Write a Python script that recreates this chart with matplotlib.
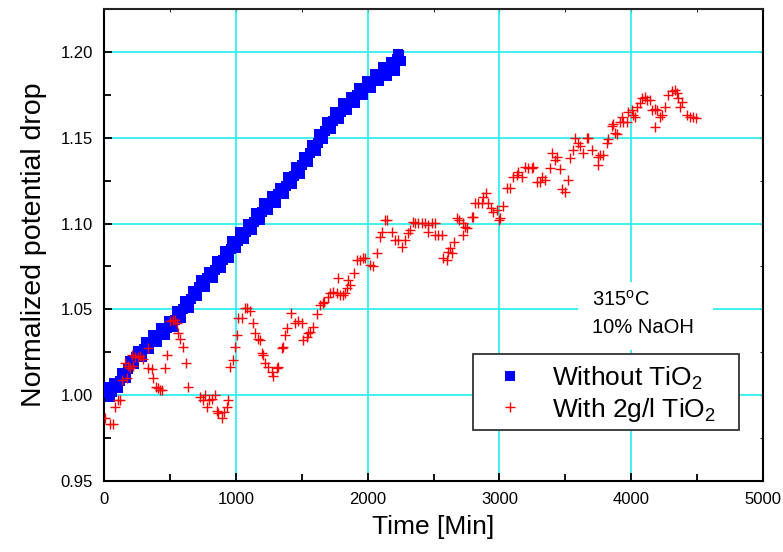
#!/usr/bin/env python3
"""
Normalized potential drop vs. time, with and without TiO2 addition
(315 C, 10% NaOH).  Writes out.png.
"""

import matplotlib
matplotlib.use("Agg")
import matplotlib.pyplot as plt
from matplotlib.patches import Rectangle
from matplotlib.ticker import MultipleLocator, FormatStrFormatter

plt.rcParams["font.family"] = ["Liberation Sans", "DejaVu Sans"]
plt.rcParams["mathtext.fontset"] = "custom"
plt.rcParams["mathtext.rm"] = "Liberation Sans"

# --- data ---------------------------------------------------------------
# series 1: without TiO2 (blue squares) - the band has some scatter, so the
# readings come in two interleaved passes (upper / lower edge of the band)
t_plain = [0, 15, 30, 45, 60, 75, 90, 105, 120, 135, 150, 165, 180, 195,
           210, 225, 240, 255, 270, 285, 300, 315, 330, 345, 360, 375, 390,
           405, 420, 435, 450, 465, 480, 495, 510, 525, 540, 555, 570, 585,
           600, 615, 630, 645, 660, 675, 690, 705, 720, 735, 750, 765, 780,
           795, 810, 825, 840, 855, 870, 885, 900, 915, 930, 945, 960, 975,
           990, 1005, 1020, 1035, 1050, 1065, 1080, 1095, 1110, 1125, 1140,
           1155, 1170, 1185, 1200, 1215, 1230, 1245, 1260, 1275, 1290, 1305,
           1320, 1335, 1350, 1365, 1380, 1395, 1410, 1425, 1440, 1455, 1470,
           1485, 1500, 1515, 1530, 1545, 1560, 1575, 1590, 1605, 1620, 1635,
           1650, 1665, 1680, 1695, 1710, 1725, 1740, 1755, 1770, 1785, 1800,
           1815, 1830, 1845, 1860, 1875, 1890, 1905, 1920, 1935, 1950, 1965,
           1980, 1995, 2010, 2025, 2040, 2055, 2070, 2085, 2100, 2115, 2130,
           2145, 2160, 2175, 2190, 2205, 2220, 2230, 2240, 2250]
v_plain = [1.001, 1.005, 1.003, 0.999, 1.002, 1.007, 1.006, 1.004, 1.008,
           1.013, 1.011, 1.010, 1.015, 1.020, 1.019, 1.018, 1.022, 1.026,
           1.024, 1.022, 1.027, 1.031, 1.030, 1.027, 1.031, 1.035, 1.033,
           1.031, 1.035, 1.039, 1.036, 1.035, 1.039, 1.043, 1.041, 1.040,
           1.044, 1.049, 1.047, 1.045, 1.050, 1.055, 1.053, 1.051, 1.056,
           1.061, 1.060, 1.058, 1.063, 1.067, 1.065, 1.063, 1.068, 1.072,
           1.070, 1.068, 1.073, 1.078, 1.076, 1.074, 1.079, 1.084, 1.082,
           1.080, 1.085, 1.090, 1.088, 1.086, 1.090, 1.095, 1.093, 1.091,
           1.095, 1.100, 1.098, 1.096, 1.101, 1.106, 1.104, 1.102, 1.107,
           1.112, 1.110, 1.108, 1.112, 1.116, 1.114, 1.112, 1.117, 1.121,
           1.119, 1.117, 1.122, 1.127, 1.125, 1.123, 1.128, 1.133, 1.131,
           1.129, 1.134, 1.139, 1.137, 1.136, 1.141, 1.146, 1.144, 1.142,
           1.147, 1.152, 1.151, 1.149, 1.154, 1.159, 1.157, 1.155, 1.160,
           1.165, 1.163, 1.161, 1.165, 1.170, 1.168, 1.166, 1.170, 1.174,
           1.172, 1.170, 1.175, 1.179, 1.177, 1.175, 1.179, 1.183, 1.181,
           1.179, 1.183, 1.187, 1.185, 1.183, 1.187, 1.191, 1.189, 1.186,
           1.190, 1.194, 1.192, 1.189, 1.196, 1.199, 1.198, 1.195]

# series 2: with 2 g/l TiO2 (red crosses)
t_tio2 = [8, 45, 70, 83, 106, 121, 136, 159, 174, 185, 200, 212, 220, 235,
          255, 275, 296, 334, 334, 364, 372, 395, 410, 425, 440, 463, 478,
          500, 520, 540, 554, 561, 576, 600, 622, 637, 728, 750, 766, 781,
          795, 820, 842, 857, 865, 895, 910, 933, 941, 956, 979, 994, 1009,
          1017, 1047, 1070, 1085, 1108, 1131, 1146, 1168, 1184, 1199, 1206,
          1222, 1245, 1275, 1282, 1313, 1320, 1350, 1358, 1373, 1388, 1419,
          1449, 1472, 1502, 1510, 1540, 1548, 1563, 1586, 1616, 1639, 1662,
          1669, 1700, 1715, 1737, 1768, 1775, 1791, 1813, 1829, 1844, 1851,
          1866, 1897, 1920, 1942, 1965, 1980, 2018, 2041, 2071, 2094, 2109,
          2132, 2147, 2185, 2208, 2231, 2261, 2284, 2307, 2322,
          2345, 2360, 2383, 2413, 2436, 2458, 2458, 2489, 2511, 2511, 2534,
          2565, 2572, 2602, 2610, 2625, 2640, 2656, 2678, 2693, 2723, 2723,
          2739, 2754, 2792, 2800, 2815, 2837, 2868, 2876, 2898, 2913, 2936,
          2951, 2982, 2997,
          3004, 3027, 3058, 3081, 3103, 3134, 3141, 3172, 3194, 3217, 3247,
          3255, 3285, 3308, 3323, 3346, 3384, 3399, 3422, 3437, 3460, 3475,
          3498, 3521, 3536, 3559, 3574, 3597, 3612, 3634, 3665, 3672, 3703,
          3748, 3748, 3763, 3786, 3816, 3824,
          3854, 3862, 3877, 3892, 3915, 3930, 3938, 3968, 3976, 4006, 4014,
          4029, 4044, 4067, 4082, 4105, 4120, 4143, 4158, 4181, 4181, 4196,
          4219, 4234, 4257, 4279, 4310, 4332, 4347, 4355, 4370, 4385, 4423,
          4446, 4469, 4491]
v_tio2 = [0.987, 0.983, 0.983, 0.993, 0.997, 0.997, 1.009, 1.019, 1.010,
          1.017, 1.016, 1.0235, 1.017, 1.022, 1.022, 1.023, 1.021, 1.0275,
          1.016, 1.0155, 1.010, 1.005, 1.004, 1.003, 1.003, 1.016, 1.0235,
          1.043, 1.044, 1.044, 1.042, 1.036, 1.033, 1.028, 1.019, 1.005,
          0.999, 0.997, 1.000, 0.993, 0.997, 0.998, 1.000, 0.991, 0.9897,
          0.987, 0.990, 0.993, 0.997, 1.0165, 1.0206, 1.028, 1.035, 1.045,
          1.045, 1.051, 1.051, 1.049, 1.042, 1.036, 1.033, 1.032, 1.0245,
          1.0235, 1.019, 1.0165, 1.0135, 1.011, 1.016, 1.0165, 1.0275, 1.028,
          1.035, 1.039, 1.048, 1.042, 1.043, 1.042, 1.032, 1.034, 1.036,
          1.037, 1.040, 1.0475, 1.0525, 1.054, 1.0545, 1.057, 1.0597, 1.060,
          1.0597, 1.068, 1.0585, 1.0585, 1.0597, 1.0626, 1.067, 1.064, 1.071,
          1.079, 1.079, 1.080, 1.080, 1.076, 1.075, 1.083, 1.092, 1.095,
          1.102, 1.102, 1.095, 1.0906, 1.0906, 1.0866, 1.0906, 1.0947, 1.0964,
          1.101, 1.1005, 1.1005, 1.1005, 1.1005, 1.0994, 1.0953, 1.1005,
          1.1005, 1.0935, 1.0935, 1.0935, 1.080, 1.079, 1.0836, 1.086, 1.083,
          1.0894, 1.1034, 1.102, 1.1005, 1.0935, 1.098, 1.0976, 1.104, 1.104,
          1.112, 1.112, 1.112, 1.1157, 1.118, 1.112, 1.109, 1.107, 1.108,
          1.102,
          1.103, 1.110, 1.121, 1.121, 1.127, 1.1285, 1.130, 1.127, 1.133,
          1.1325, 1.1325, 1.133, 1.124, 1.124, 1.127, 1.1256, 1.1325, 1.141,
          1.137, 1.139, 1.132, 1.120, 1.1186, 1.1256, 1.138, 1.143, 1.150,
          1.147, 1.145, 1.141, 1.150, 1.150, 1.143, 1.139, 1.134, 1.140,
          1.140, 1.147, 1.149,
          1.157, 1.158, 1.153, 1.152, 1.159, 1.162, 1.159, 1.159, 1.165,
          1.166, 1.163, 1.162, 1.168, 1.170, 1.173, 1.174, 1.172, 1.172,
          1.166, 1.167, 1.1565, 1.166, 1.162, 1.1635, 1.168, 1.175, 1.177,
          1.178, 1.176, 1.173, 1.168, 1.171, 1.1635, 1.162, 1.162, 1.1615]

label_plain = "Without TiO$_2$"
label_tio2 = "With 2g/l TiO$_2$"
conditions = ["315$^{\\rm o}$C", "10% NaOH"]

X_LIM = (0, 5000)
Y_LIM = (0.95, 1.225)
GRID_COLOR = "#22eeee"


def style_axes(ax):
    ax.set_xlim(*X_LIM)
    ax.set_ylim(*Y_LIM)
    ax.xaxis.set_major_locator(MultipleLocator(1000))
    ax.xaxis.set_minor_locator(MultipleLocator(500))
    ax.yaxis.set_major_locator(MultipleLocator(0.05))
    ax.yaxis.set_minor_locator(MultipleLocator(0.025))
    ax.yaxis.set_major_formatter(FormatStrFormatter("%.2f"))
    ax.tick_params(which="both", direction="in", width=1.3, labelsize=12)
    ax.tick_params(which="major", length=6, pad=8)
    ax.tick_params(which="minor", length=5)
    ax.grid(True, which="major", color=GRID_COLOR, linewidth=1.2, zorder=0)
    ax.set_axisbelow(True)
    for side in ["left", "bottom", "top", "right"]:
        ax.spines[side].set_linewidth(1.5)
    ax.spines["top"].set_color("#222222")

    # short ticks on the top / right edges
    top = ax.secondary_xaxis("top")
    top.xaxis.set_major_locator(MultipleLocator(1000))
    top.xaxis.set_minor_locator(MultipleLocator(500))
    top.tick_params(which="both", direction="in", length=2.5, labeltop=False)
    top.spines["top"].set_visible(False)
    right = ax.secondary_yaxis("right")
    right.yaxis.set_major_locator(MultipleLocator(0.05))
    right.yaxis.set_minor_locator(MultipleLocator(0.025))
    right.tick_params(which="both", direction="in", length=2.5, labelright=False)
    right.spines["right"].set_visible(False)


def main():
    fig = plt.figure(figsize=(7.83, 5.52), dpi=100)
    ax = fig.add_axes([0.1328, 0.1286, 0.8417, 0.855])
    style_axes(ax)

    ax.plot(t_plain, v_plain, linestyle="none", marker="s", markersize=7,
            color="#0000ff", markeredgewidth=0, label=label_plain, zorder=3)
    ax.plot(t_tio2, v_tio2, linestyle="none", marker="+", markersize=7.5,
            markeredgewidth=1.0, color="#ff0000", label=label_tio2, zorder=4)

    ax.set_xlabel("Time [Min]", fontsize=19, labelpad=6)
    ax.set_ylabel("Normalized potential drop", fontsize=20.5, labelpad=10)

    # white patch behind the test conditions (cuts the grid lines)
    ax.add_patch(Rectangle((0.719, 0.2775), 0.205, 0.144, transform=ax.transAxes,
                           facecolor="white", edgecolor="none", zorder=1))
    ax.text(0.7405, 0.3835, conditions[0], transform=ax.transAxes,
            fontsize=14.5, va="center", ha="left", zorder=2)
    ax.text(0.7405, 0.326, conditions[1], transform=ax.transAxes,
            fontsize=14.5, va="center", ha="left", zorder=2)

    # legend frame drawn separately so its size matches the original box
    ax.add_patch(Rectangle((0.560, 0.108), 0.4036, 0.161, transform=ax.transAxes,
                           facecolor="white", edgecolor="#333333",
                           linewidth=1.3, zorder=5))
    leg = ax.legend(loc="upper left", bbox_to_anchor=(0.5918, 0.2475),
                    fontsize=19, frameon=False, borderpad=0, labelspacing=0.15,
                    handlelength=1.2, handletextpad=1.0, borderaxespad=0)
    leg.set_zorder(6)

    fig.savefig("out.png", dpi=100)
    plt.close(fig)


if __name__ == "__main__":
    main()
